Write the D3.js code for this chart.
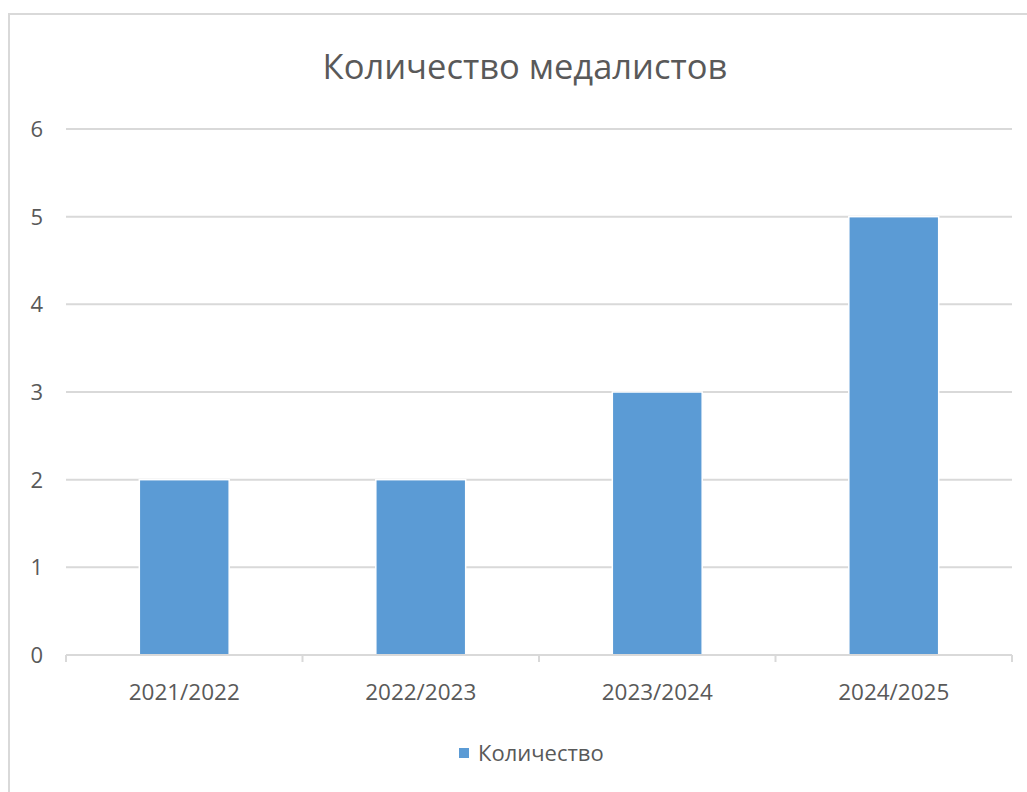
<!DOCTYPE html>
<html><head><meta charset="utf-8">
<script src="https://cdn.jsdelivr.net/npm/d3@7"></script>
<style>body{margin:0;background:#fff}svg{display:block}</style>
</head><body>
<svg id="c" width="1027" height="792"></svg>
<script>
const title = "Количество медалистов";
const categories = ["2021/2022","2022/2023","2023/2024","2024/2025"];
const values = [2,2,3,5];
const seriesName = "Количество";
const yTicks = [0,1,2,3,4,5,6];

const svg = d3.select("#c");
const font = "'Open Sans', sans-serif";
const textColor = "#595959";
const m = {left:66, right:1012, top:129, bottom:655};

// chart frame
svg.append("path").attr("d","M9,792 V14 H1027").attr("fill","none").attr("stroke","#d9d9d9").attr("stroke-width",2);

const x = d3.scaleBand().domain(categories).range([m.left,m.right]).paddingInner(0.62).paddingOuter(0.31);
const y = d3.scaleLinear().domain([0,6]).range([m.bottom,m.top]);

// gridlines
svg.append("g").selectAll("line").data(yTicks.filter(d=>d>0)).join("line")
  .attr("x1",m.left).attr("x2",m.right).attr("y1",d=>y(d)).attr("y2",d=>y(d))
  .attr("stroke","#d9d9d9").attr("stroke-width",2);

// y labels
svg.append("g").selectAll("text").data(yTicks).join("text")
  .attr("x",43).attr("y",d=>y(d)).attr("dy","0.36em").attr("text-anchor","end")
  .attr("font-family",font).attr("font-size",22).attr("fill",textColor).text(d=>d);

// bars
svg.append("g").selectAll("rect").data(values).join("rect")
  .attr("x",(d,i)=>x(categories[i])).attr("width",x.bandwidth())
  .attr("y",d=>y(d)).attr("height",d=>y(0)-y(d))
  .attr("fill","#5b9bd5").attr("stroke","#fff").attr("stroke-width",1.5);

// x axis
const step = (m.right-m.left)/categories.length;
const bounds = d3.range(categories.length+1).map(i=>m.left+i*step);
svg.append("line").attr("x1",m.left).attr("x2",m.right).attr("y1",m.bottom).attr("y2",m.bottom)
  .attr("stroke","#d9d9d9").attr("stroke-width",2);
svg.append("g").selectAll("line").data(bounds).join("line")
  .attr("x1",d=>d).attr("x2",d=>d).attr("y1",m.bottom).attr("y2",m.bottom+7)
  .attr("stroke","#d9d9d9").attr("stroke-width",2);
svg.append("g").selectAll("text").data(categories).join("text")
  .attr("x",d=>x(d)+x.bandwidth()/2).attr("y",700).attr("text-anchor","middle")
  .attr("font-family",font).attr("font-size",22.5).attr("fill",textColor).text(d=>d);

// title
svg.append("text").attr("x",525).attr("y",79).attr("text-anchor","middle")
  .attr("font-family",font).attr("font-size",34.5).attr("fill",textColor).text(title);

// legend
svg.append("rect").attr("x",459).attr("y",748).attr("width",10).attr("height",10).attr("fill","#5b9bd5");
svg.append("text").attr("x",478).attr("y",761).attr("font-family",font).attr("font-size",22)
  .attr("fill",textColor).text(seriesName);
</script>
</body></html>
